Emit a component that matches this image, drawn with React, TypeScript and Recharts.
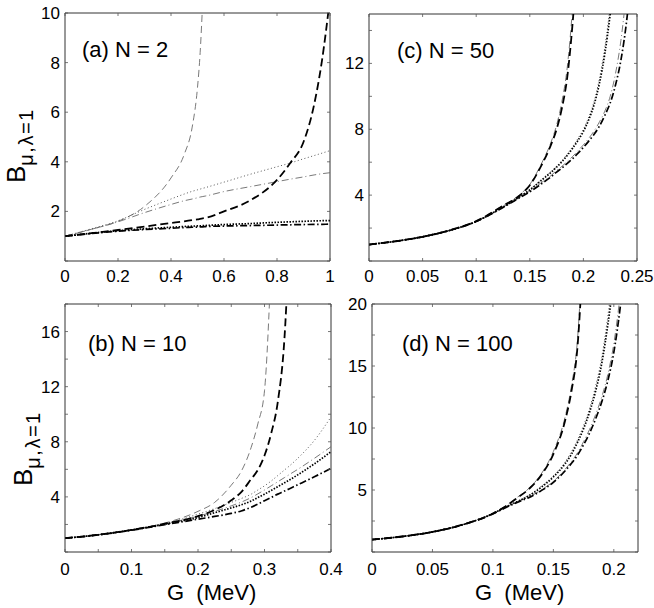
import { LineChart, Line, XAxis, YAxis, ReferenceLine } from "recharts";

// ---- (a) N = 2 ----
const gA = [0, 0.1, 0.2, 0.3, 0.4, 0.45, 0.48, 0.5, 0.51, 0.52, 0.53, 0.6, 0.7, 0.8, 0.85, 0.9, 0.94, 0.97, 1.0];
const aThinDash = [1, 1.28, 1.6, 2.2, 3.35, 4.3, 5.4, 7.0, 8.4, 10.6, 13.5, null, null, null, null, null, null, null, null];
const aThickDash = [1, 1.12, 1.25, 1.39, 1.53, 1.6, 1.65, 1.68, 1.7, 1.72, 1.74, 2.0, 2.45, 3.27, 3.95, 4.8, 6.3, 8.1, 10.6];
const aThinDot = [1, 1.3, 1.62, 2.08, 2.5, 2.7, 2.81, 2.87, 2.9, 2.93, 2.96, 3.18, 3.5, 3.8, 3.95, 4.12, 4.25, 4.35, 4.45];
const aThickDot = [1, 1.12, 1.22, 1.3, 1.36, 1.39, 1.405, 1.415, 1.42, 1.425, 1.43, 1.47, 1.51, 1.56, 1.58, 1.6, 1.615, 1.625, 1.63];
const aThinDashDot = [1, 1.28, 1.58, 1.95, 2.28, 2.43, 2.5, 2.55, 2.58, 2.6, 2.62, 2.8, 3.0, 3.2, 3.3, 3.39, 3.47, 3.52, 3.56];
const aThickDashDot = [1, 1.11, 1.2, 1.27, 1.32, 1.35, 1.36, 1.37, 1.38, 1.38, 1.39, 1.41, 1.43, 1.45, 1.46, 1.47, 1.475, 1.48, 1.485];
const aXTicks = [0, 0.2, 0.4, 0.6, 0.8, 1];
const aXLabels = ["0", "0.2", "0.4", "0.6", "0.8", "1"];
const aYTicks = [0, 2, 4, 6, 8, 10];
const aYLabels = ["", "2", "4", "6", "8", "10"];

// ---- (b) N = 10 ----
const gB = [0, 0.05, 0.1, 0.15, 0.2, 0.225, 0.25, 0.265, 0.28, 0.29, 0.3, 0.31, 0.32, 0.33, 0.34, 0.35, 0.375, 0.4];
const bThinDash = [1, 1.25, 1.6, 2.1, 2.95, 3.6, 4.85, 5.85, 7.6, 9.3, 11.7, 21, null, null, null, null, null, null];
const bThickDash = [1, 1.25, 1.6, 2.05, 2.6, 3.05, 3.75, 4.35, 5.3, 5.95, 7.0, 8.6, 10.9, 15.5, 26, null, null, null];
const bThinDot = [1, 1.25, 1.6, 2.05, 2.75, 3.15, 3.6, 3.88, 4.2, 4.5, 4.8, 5.15, 5.55, 5.95, 6.35, 6.8, 8.1, 9.8];
const bThickDot = [1, 1.25, 1.6, 2.02, 2.5, 2.85, 3.2, 3.42, 3.7, 3.95, 4.2, 4.47, 4.75, 5.02, 5.3, 5.6, 6.4, 7.28];
const bThinDashDot = [1, 1.25, 1.6, 2.05, 2.6, 2.95, 3.35, 3.62, 3.95, 4.22, 4.5, 4.8, 5.1, 5.4, 5.7, 6.0, 6.8, 7.64];
const bThickDashDot = [1, 1.24, 1.58, 1.98, 2.38, 2.58, 2.8, 2.98, 3.25, 3.48, 3.72, 3.96, 4.2, 4.42, 4.65, 4.88, 5.46, 6.07];
const bXTicks = [0, 0.05, 0.1, 0.15, 0.2, 0.25, 0.3, 0.35, 0.4];
const bXLabels = ["0", "", "0.1", "", "0.2", "", "0.3", "", "0.4"];
const bYTicks = [0, 2, 4, 6, 8, 10, 12, 14, 16, 18];
const bYLabels = ["", "", "4", "", "8", "", "12", "", "16", ""];

// ---- (c) N = 50 ----
const gC = [0, 0.025, 0.05, 0.075, 0.1, 0.125, 0.14, 0.15, 0.16, 0.17, 0.175, 0.18, 0.185, 0.19, 0.195, 0.2, 0.205, 0.21, 0.215, 0.22, 0.225, 0.23, 0.235, 0.24, 0.245, 0.25];
const cThinDash = [1, 1.2, 1.47, 1.86, 2.43, 3.38, 4.0, 4.65, 5.8, 7.25, 8.25, 9.7, 11.8, 15.5, 21, null, null, null, null, null, null, null, null, null, null, null];
const cThickDash = [1, 1.2, 1.47, 1.86, 2.42, 3.35, 3.95, 4.6, 5.7, 7.1, 8.0, 9.3, 11.2, 14.5, 19, null, null, null, null, null, null, null, null, null, null, null];
const cThinDot = [1, 1.2, 1.47, 1.85, 2.4, 3.3, 3.9, 4.35, 4.9, 5.45, 5.75, 6.1, 6.5, 6.95, 7.45, 8.0, 8.75, 9.7, 11.1, 13.0, 15.5, 18.5, null, null, null, null];
const cThickDot = [1, 1.2, 1.47, 1.85, 2.4, 3.28, 3.88, 4.32, 4.85, 5.4, 5.7, 6.03, 6.42, 6.85, 7.33, 7.87, 8.58, 9.5, 10.8, 12.6, 15.0, 18, null, null, null, null];
const cThinDashDot = [1, 1.2, 1.47, 1.85, 2.4, 3.27, 3.85, 4.25, 4.72, 5.2, 5.5, 5.75, 6.05, 6.35, 6.7, 7.05, 7.45, 7.9, 8.45, 9.1, 10.0, 11.4, 13.4, 16.3, 20, null];
const cThickDashDot = [1, 1.2, 1.47, 1.85, 2.4, 3.25, 3.82, 4.2, 4.65, 5.12, 5.4, 5.65, 5.93, 6.22, 6.55, 6.9, 7.28, 7.7, 8.2, 8.85, 9.6, 10.7, 12.2, 14.4, 17.5, 21];
const cXTicks = [0, 0.05, 0.1, 0.15, 0.2, 0.25];
const cXLabels = ["0", "0.05", "0.1", "0.15", "0.2", "0.25"];
const cYTicks = [0, 2, 4, 6, 8, 10, 12, 14];
const cYLabels = ["", "", "4", "", "8", "", "12", ""];

// ---- (d) N = 100 ----
const gD = [0, 0.025, 0.05, 0.075, 0.1, 0.11, 0.12, 0.13, 0.14, 0.15, 0.16, 0.165, 0.17, 0.175, 0.18, 0.185, 0.19, 0.195, 0.2, 0.205, 0.21, 0.22];
const dThinDash = [1, 1.25, 1.62, 2.2, 3.12, 3.68, 4.4, 5.15, 6.3, 8.1, 11.0, 13.4, 17.2, 26, null, null, null, null, null, null, null, null];
const dThickDash = [1, 1.25, 1.62, 2.2, 3.1, 3.65, 4.35, 5.1, 6.2, 7.9, 10.7, 13.0, 16.6, 25, null, null, null, null, null, null, null, null];
const dThinDot = [1, 1.25, 1.62, 2.2, 3.1, 3.62, 4.1, 4.6, 5.3, 6.15, 7.3, 8.1, 9.05, 10.2, 11.6, 13.4, 15.7, 19, 23, null, null, null];
const dThickDot = [1, 1.25, 1.62, 2.2, 3.1, 3.6, 4.05, 4.55, 5.22, 6.05, 7.15, 7.9, 8.85, 9.95, 11.3, 13.0, 15.2, 18.3, 22, null, null, null];
const dThinDashDot = [1, 1.25, 1.62, 2.2, 3.08, 3.58, 4.05, 4.45, 5.0, 5.7, 6.7, 7.3, 8.0, 8.9, 9.9, 11.1, 12.5, 14.3, 16.8, 20.5, 25, null];
const dThickDashDot = [1, 1.25, 1.62, 2.2, 3.07, 3.55, 4.0, 4.4, 4.95, 5.62, 6.58, 7.15, 7.82, 8.65, 9.6, 10.75, 12.1, 13.8, 16.1, 19.5, 24, null];
const dXTicks = [0, 0.05, 0.1, 0.15, 0.2];
const dXLabels = ["0", "0.05", "0.1", "0.15", "0.2"];
const dYTicks = [0, 2.5, 5, 7.5, 10, 12.5, 15, 17.5, 20];
const dYLabels = ["", "", "5", "", "10", "", "15", "", "20"];

const FONT = "'Liberation Sans', Arial, Helvetica, sans-serif";

const LINE_STYLES: Record<string, { stroke: string; strokeWidth: number; strokeDasharray: string }> = {
  thinDash: { stroke: "#6a6a6a", strokeWidth: 0.9, strokeDasharray: "7 4" },
  thinDot: { stroke: "#444", strokeWidth: 0.9, strokeDasharray: "1 2.5" },
  thinDashDot: { stroke: "#6a6a6a", strokeWidth: 0.9, strokeDasharray: "7 3 1 3" },
  thickDash: { stroke: "#000", strokeWidth: 1.8, strokeDasharray: "8 4" },
  thickDot: { stroke: "#000", strokeWidth: 1.7, strokeDasharray: "1.5 1.5" },
  thickDashDot: { stroke: "#000", strokeWidth: 1.7, strokeDasharray: "7 2.5 1.5 2.5" },
};
const SERIES_ORDER = ["thinDash", "thinDot", "thinDashDot", "thickDash", "thickDot", "thickDashDot"];

function buildRows(g: number[], series: Record<string, (number | null)[]>) {
  return g.map((x, i) => {
    const row: any = { g: x };
    Object.entries(series).forEach(([k, v]) => {
      row[k] = v[i];
    });
    return row;
  });
}

function labelFor(value: number, ticks: number[], labels: string[]) {
  const i = ticks.findIndex(t => Math.abs(t - value) < 1e-9);
  return i >= 0 ? labels[i] : "";
}

function XTick({ x, y, payload, ticks, labels, plotH, dy }: any) {
  const label = labelFor(payload.value, ticks, labels);
  return (
    <g>
      <line x1={x} x2={x} y1={y} y2={y - 3} stroke="#555" strokeWidth={0.8} />
      <line x1={x} x2={x} y1={y - plotH} y2={y - plotH + 3} stroke="#555" strokeWidth={0.8} />
      {label && (
        <text x={x} y={y + dy} textAnchor="middle" fontSize={17} fontFamily={FONT} fill="#000">
          {label}
        </text>
      )}
    </g>
  );
}

function YTick({ x, y, payload, ticks, labels, plotW }: any) {
  const label = labelFor(payload.value, ticks, labels);
  return (
    <g>
      <line x1={x} x2={x + 3} y1={y} y2={y} stroke="#555" strokeWidth={0.8} />
      <line x1={x + plotW} x2={x + plotW - 3} y1={y} y2={y} stroke="#555" strokeWidth={0.8} />
      {label && (
        <text x={x - 5} y={y + 6} textAnchor="end" fontSize={17} fontFamily={FONT} fill="#000">
          {label}
        </text>
      )}
    </g>
  );
}

interface PanelProps {
  left: number;
  top: number;
  width: number;
  height: number;
  marginTop: number;
  marginRight: number;
  yAxisWidth: number;
  xAxisHeight: number;
  rows: any[];
  xMax: number;
  yMax: number;
  xTicks: number[];
  xLabels: string[];
  yTicks: number[];
  yLabels: string[];
  labelDy: number;
}

function Panel(p: PanelProps) {
  const plotW = p.width - p.marginRight - p.yAxisWidth;
  const plotH = p.height - p.marginTop - p.xAxisHeight;
  return (
    <div style={{ position: "absolute", left: p.left, top: p.top }}>
      <LineChart
        width={p.width}
        height={p.height}
        data={p.rows}
        margin={{ top: p.marginTop, right: p.marginRight, bottom: 0, left: 0 }}
      >
        <XAxis
          dataKey="g"
          type="number"
          domain={[0, p.xMax]}
          ticks={p.xTicks}
          interval={0}
          allowDataOverflow
          height={p.xAxisHeight}
          tickSize={0}
          tickMargin={0}
          tickLine={false}
          axisLine={{ stroke: "#333", strokeWidth: 1 }}
          tick={(t: any) => (
            <XTick {...t} ticks={p.xTicks} labels={p.xLabels} plotH={plotH} dy={p.labelDy} />
          )}
        />
        <YAxis
          type="number"
          domain={[0, p.yMax]}
          ticks={p.yTicks}
          interval={0}
          allowDataOverflow
          width={p.yAxisWidth}
          tickSize={0}
          tickMargin={0}
          tickLine={false}
          axisLine={{ stroke: "#333", strokeWidth: 1 }}
          tick={(t: any) => <YTick {...t} ticks={p.yTicks} labels={p.yLabels} plotW={plotW} />}
        />
        <ReferenceLine y={p.yMax} stroke="#333" strokeWidth={1} />
        <ReferenceLine x={p.xMax} stroke="#333" strokeWidth={1} />
        {SERIES_ORDER.map(key => (
          <Line
            key={key}
            type="monotone"
            dataKey={key}
            dot={false}
            activeDot={false}
            isAnimationActive={false}
            {...LINE_STYLES[key]}
          />
        ))}
      </LineChart>
    </div>
  );
}

const rowsA = buildRows(gA, {
  thinDash: aThinDash, thickDash: aThickDash, thinDot: aThinDot,
  thickDot: aThickDot, thinDashDot: aThinDashDot, thickDashDot: aThickDashDot,
});
const rowsB = buildRows(gB, {
  thinDash: bThinDash, thickDash: bThickDash, thinDot: bThinDot,
  thickDot: bThickDot, thinDashDot: bThinDashDot, thickDashDot: bThickDashDot,
});
const rowsC = buildRows(gC, {
  thinDash: cThinDash, thickDash: cThickDash, thinDot: cThinDot,
  thickDot: cThickDot, thinDashDot: cThinDashDot, thickDashDot: cThickDashDot,
});
const rowsD = buildRows(gD, {
  thinDash: dThinDash, thickDash: dThickDash, thinDot: dThinDot,
  thickDot: dThickDot, thinDashDot: dThinDashDot, thickDashDot: dThickDashDot,
});

function YTitle({ x, y }: { x: number; y: number }) {
  return (
    <text transform={`translate(${x},${y}) rotate(-90)`} fontFamily={FONT} fill="#000" fontSize={26}>
      B
      <tspan dy={8} fontSize={20} letterSpacing={1.5}>
        μ,λ=1
      </tspan>
    </text>
  );
}

export default function App() {
  return (
    <div style={{ position: "relative", width: 654, height: 608, background: "#fff" }}>
      <style>{"body{margin:0}"}</style>
      <Panel left={0} top={0} width={350} height={300} marginTop={13} marginRight={20}
        yAxisWidth={65} xAxisHeight={39} rows={rowsA} xMax={1} yMax={10}
        xTicks={aXTicks} xLabels={aXLabels} yTicks={aYTicks} yLabels={aYLabels} labelDy={21} />
      <Panel left={0} top={290} width={350} height={318} marginTop={14} marginRight={19}
        yAxisWidth={65} xAxisHeight={56} rows={rowsB} xMax={0.4} yMax={18}
        xTicks={bXTicks} xLabels={bXLabels} yTicks={bYTicks} yLabels={bYLabels} labelDy={23} />
      <Panel left={330} top={0} width={324} height={300} marginTop={14} marginRight={17}
        yAxisWidth={39} xAxisHeight={39} rows={rowsC} xMax={0.25} yMax={15}
        xTicks={cXTicks} xLabels={cXLabels} yTicks={cYTicks} yLabels={cYLabels} labelDy={21} />
      <Panel left={330} top={290} width={324} height={318} marginTop={14} marginRight={16}
        yAxisWidth={42} xAxisHeight={56} rows={rowsD} xMax={0.22} yMax={20}
        xTicks={dXTicks} xLabels={dXLabels} yTicks={dYTicks} yLabels={dYLabels} labelDy={23} />
      <svg width={654} height={608} style={{ position: "absolute", left: 0, top: 0, pointerEvents: "none" }}>
        <g fontFamily={FONT} fontSize={22} fill="#000">
          <text x={82} y={57} style={{ whiteSpace: "pre" }}>(a) N = 2</text>
          <text x={397} y={58} style={{ whiteSpace: "pre" }}>(c) N = 50</text>
          <text x={88} y={351} style={{ whiteSpace: "pre" }}>(b) N = 10</text>
          <text x={402} y={351} style={{ whiteSpace: "pre" }}>(d) N = 100</text>
          <text x={167} y={600} style={{ whiteSpace: "pre" }}>G  (MeV)</text>
          <text x={475} y={600} style={{ whiteSpace: "pre" }}>G  (MeV)</text>
        </g>
        <YTitle x={25} y={183} />
        <YTitle x={32} y={486} />
      </svg>
    </div>
  );
}
